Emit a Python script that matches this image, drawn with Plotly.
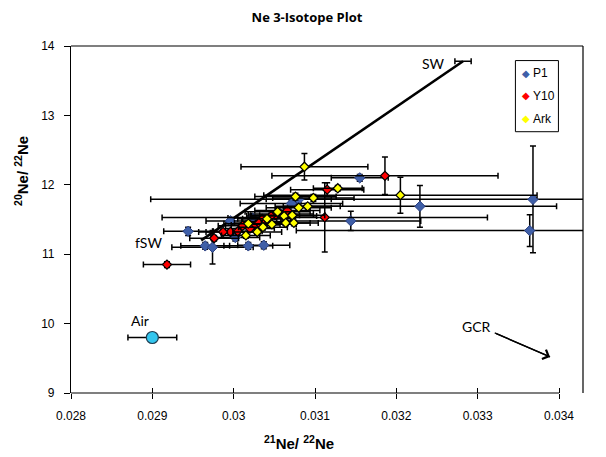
import plotly.graph_objects as go

# ---------------- data ----------------
p1_x  = [0.03155, 0.03080, 0.03071, 0.03144, 0.03023, 0.03002, 0.02944, 0.02965, 0.02974, 0.03018, 0.03037, 0.03229, 0.03368, 0.03364, 0.02996, 0.03058]
p1_y  = [12.10, 11.79, 11.73, 11.48, 11.52, 11.24, 11.33, 11.12, 11.10, 11.12, 11.13, 11.69, 11.79, 11.34, 11.48, 11.58]
p1_ex = [0.00035, 0.0004, 0.00063, 0.00086, 0.0003, 0.0003, 0.0003, 0.0003, 0.0005, 0.0003, 0.00032, 0.00168, 0.0047, 0.00287, 0.0003, 0.0004]
p1_ey = [0.05, 0.05, 0.05, 0.14, 0.05, 0.05, 0.06, 0.05, 0.24, 0.05, 0.05, 0.30, 0.77, 0.23, 0.05, 0.05]

y10_x  = [0.03186, 0.03115, 0.03066, 0.03112, 0.03051, 0.03046, 0.03035, 0.03027, 0.03011, 0.03005, 0.02996, 0.02987, 0.02976, 0.02918, 0.03040, 0.03020, 0.03031]
y10_y  = [12.13, 11.93, 11.63, 11.53, 11.56, 11.55, 11.51, 11.42, 11.41, 11.33, 11.32, 11.32, 11.23, 10.85, 11.47, 11.37, 11.45]
y10_ex = [0.00139, 0.00045, 0.0004, 0.0020, 0.0003, 0.0003, 0.0003, 0.0003, 0.0003, 0.0003, 0.0003, 0.0003, 0.0003, 0.00029, 0.0003, 0.0003, 0.0003]
y10_ey = [0.27, 0.10, 0.05, 0.50, 0.04, 0.04, 0.04, 0.04, 0.04, 0.04, 0.04, 0.04, 0.04, 0.04, 0.04, 0.04, 0.04]

ark_x  = [0.03087, 0.03128, 0.03098, 0.03076, 0.03091, 0.03080, 0.03062, 0.03072, 0.03041, 0.03047, 0.03064, 0.03074, 0.03018, 0.03029, 0.03015, 0.03205, 0.03054, 0.03036]
ark_y  = [12.26, 11.95, 11.81, 11.83, 11.69, 11.67, 11.55, 11.56, 11.51, 11.43, 11.45, 11.45, 11.44, 11.32, 11.27, 11.85, 11.61, 11.39]
ark_ex = [0.00078, 0.0003, 0.0005, 0.0005, 0.0004, 0.0004, 0.0004, 0.0004, 0.0003, 0.0003, 0.0003, 0.0003, 0.0003, 0.0003, 0.0003, 0.00168, 0.0004, 0.0003]
ark_ey = [0.19, 0.04, 0.05, 0.05, 0.04, 0.04, 0.04, 0.04, 0.04, 0.04, 0.04, 0.04, 0.04, 0.04, 0.04, 0.26, 0.04, 0.04]

air_x, air_y, air_ex = [0.0290], [9.80], [0.0003]
sw_x, sw_y, sw_ex = [0.03282], [13.78], [0.0001]
mix_x = [0.0296, 0.03282]
mix_y = [11.20, 13.78]

gcr_x = [0.03321, 0.03389]
gcr_y = [9.865, 9.52]

x_ticks = [0.028, 0.029, 0.030, 0.031, 0.032, 0.033, 0.034]
x_tick_text = ["0.028", "0.029", "0.03", "0.031", "0.032", "0.033", "0.034"]
y_ticks = [9, 10, 11, 12, 13, 14]

legend_names = ["P1", "Y10", "Ark"]
legend_colors = ["#3F5FA8", "#FF0000", "#FFFF00"]

# ---------------- figure ----------------
fig = go.Figure()

fig.add_trace(go.Scatter(x=mix_x, y=mix_y, mode="lines",
                         line=dict(color="black", width=2.6), showlegend=False, hoverinfo="skip"))
fig.add_trace(go.Scatter(x=sw_x, y=sw_y, mode="markers",
                         marker=dict(size=1, color="rgba(0,0,0,0)"),
                         error_x=dict(type="data", array=sw_ex, color="black", thickness=1.5, width=3),
                         showlegend=False))

def series(name, xs, ys, exs, eys, color, size, lw, lc):
    fig.add_trace(go.Scatter(
        x=xs, y=ys, mode="markers", name=name, showlegend=False,
        marker=dict(symbol="diamond", size=size, color=color, line=dict(color=lc, width=lw)),
        error_x=dict(type="data", array=exs, color="black", thickness=1.5, width=3),
        error_y=dict(type="data", array=eys, color="black", thickness=1.5, width=3),
    ))

series("P1", p1_x, p1_y, p1_ex, p1_ey, legend_colors[0], 8, 1, "#2A3F80")
series("Y10", y10_x, y10_y, y10_ex, y10_ey, legend_colors[1], 7, 1.2, "black")
series("Ark", ark_x, ark_y, ark_ex, ark_ey, legend_colors[2], 7, 1.2, "black")

fig.add_trace(go.Scatter(x=air_x, y=air_y, mode="markers", showlegend=False,
                         marker=dict(symbol="circle", size=12, color="#33C6EE",
                                     line=dict(color="#1E3C50", width=1.2)),
                         error_x=dict(type="data", array=air_ex, color="black", thickness=1.5, width=3)))

# GCR arrow (line + open head)
fig.add_trace(go.Scatter(x=gcr_x, y=gcr_y, mode="lines", line=dict(color="black", width=1.4),
                         showlegend=False, hoverinfo="skip"))
fig.add_annotation(x=gcr_x[1], y=gcr_y[1], ax=gcr_x[0], ay=gcr_y[0], axref="x", ayref="y",
                   xref="x", yref="y", text="", showarrow=True, arrowhead=4, arrowsize=1.4,
                   arrowwidth=1.4, arrowcolor="black")

ann_font = dict(family="Lato, Open Sans, sans-serif", size=14, color="black")
for x, y, t in [(0.03246, 13.75, "SW"), (0.02895, 11.17, "fSW"), (0.02885, 10.04, "Air"), (0.03299, 9.955, "GCR")]:
    fig.add_annotation(x=x, y=y, text=t, showarrow=False, font=ann_font,
                       xanchor="center", yanchor="middle")

# axis titles
title_font = dict(family="Liberation Sans, Arial, sans-serif", size=15, color="black")
fig.add_annotation(xref="paper", yref="paper", x=0.445, y=-0.144, text="<b><sup>21</sup>Ne/ <sup>22</sup>Ne</b>",
                   showarrow=False, font=title_font, xanchor="center", yanchor="middle")
fig.add_annotation(xref="paper", yref="paper", x=-0.0957, y=0.64, text="<b><sup>20</sup>Ne/ <sup>22</sup>Ne</b>",
                   showarrow=False, textangle=-90, font=title_font, xanchor="center", yanchor="middle")

# manual legend
leg_font = dict(family="Liberation Sans, Arial, sans-serif", size=12, color="black")
leg_y = [0.922, 0.856, 0.790]
for name, col, yy in zip(legend_names, legend_colors, leg_y):
    fig.add_annotation(xref="paper", yref="paper", x=0.889, y=yy, text="◆", showarrow=False,
                       xanchor="center", yanchor="middle",
                       font=dict(family="DejaVu Sans", size=10, color=col))
    fig.add_annotation(xref="paper", yref="paper", x=0.899, y=yy, text=name, xanchor="left",
                       yanchor="middle", showarrow=False, font=leg_font)

shapes = [
    dict(type="line", xref="x", yref="paper", x0=0.028, x1=0.034, y0=0, y1=0,
         line=dict(color="black", width=1.2)),
    dict(type="line", xref="paper", yref="paper", x0=0, x1=1, y0=1, y1=1,
         line=dict(color="black", width=1.2)),
    dict(type="line", xref="paper", yref="paper", x0=1, x1=1, y0=0, y1=1,
         line=dict(color="black", width=1.2)),
    dict(type="rect", xref="paper", yref="paper", x0=0.868, x1=0.952, y0=0.753, y1=0.958,
         line=dict(color="black", width=1), fillcolor="white", layer="below"),
]

# the page body adds an 8px offset, so the figure is sized to fill the rest of the 606x457 window
tick_font = dict(family="Liberation Sans, Arial, sans-serif", size=12, color="black")
fig.update_layout(
    width=598, height=449,
    margin=dict(l=63, r=23, t=38, b=64),
    paper_bgcolor="white", plot_bgcolor="white",
    showlegend=False,
    title=dict(text="<b>Ne 3-Isotope Plot</b>", x=0.5, xanchor="center", y=0.978, yanchor="middle",
               font=dict(family="Liberation Sans Narrow, Open Sans, sans-serif", size=13, color="black")),
    xaxis=dict(range=[0.028, 0.034295], tickvals=x_ticks, ticktext=x_tick_text, automargin=False,
               showline=False, showgrid=False, zeroline=False, ticks="outside", ticklen=5,
               tickcolor="black", tickwidth=1.2, tickfont=tick_font, ticklabelstandoff=7),
    xaxis2=dict(overlaying="x", matches="x", anchor="y", side="bottom", tickvals=x_ticks,
                showticklabels=False, ticks="inside", ticklen=5, tickcolor="black", tickwidth=1.2,
                showline=False, showgrid=False, zeroline=False, automargin=False),
    yaxis=dict(range=[9, 14], tickvals=y_ticks, showline=True, linecolor="black", linewidth=1.2,
               showgrid=False, zeroline=False, ticks="outside", ticklen=6, tickcolor="black",
               tickwidth=1.2, tickfont=tick_font, automargin=False, ticklabelstandoff=7),
    shapes=shapes,
)
fig.add_trace(go.Scatter(x=[0.028], y=[9], xaxis="x2", mode="markers",
                         marker=dict(size=1, color="rgba(0,0,0,0)"), showlegend=False, hoverinfo="skip"))

fig.write_html("out.html")
